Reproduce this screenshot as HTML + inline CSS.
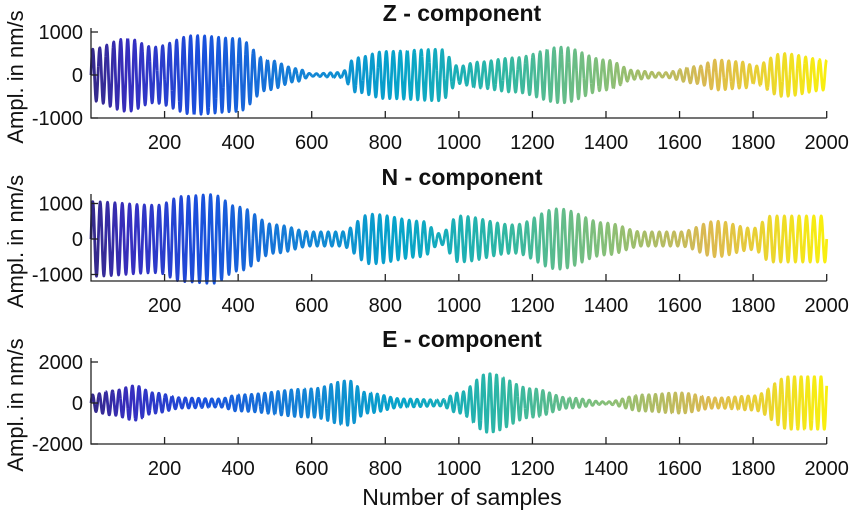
<!DOCTYPE html>
<html><head><meta charset="utf-8"><style>
html,body{margin:0;padding:0;background:#fff}
svg text{font-family:"Liberation Sans",sans-serif;fill:#111}
</style></head><body>
<svg id="s" width="850" height="511" viewBox="0 0 850 511" xmlns="http://www.w3.org/2000/svg"></svg>
<script>
const S=document.getElementById('s');const NS='http://www.w3.org/2000/svg';
function el(t,a,txt){const e=document.createElementNS(NS,t);for(const k in a)e.setAttribute(k,a[k]);if(txt!==undefined)e.textContent=txt;S.appendChild(e);return e;}
const X0=91,X1=826.7;const xs=i=>X0+(X1-X0)*i/2000;
const stops=[[0,[53,42,135]],[0.05,[55,45,190]],[0.15,[25,80,220]],[0.28,[20,129,214]],[0.42,[6,164,202]],[0.56,[46,183,164]],[0.7,[135,191,119]],[0.84,[220,185,80]],[1,[249,240,14]]];
function col(t){for(let k=0;k<stops.length-1;k++){const a=stops[k],b=stops[k+1];if(t<=b[0]){const f=(t-a[0])/(b[0]-a[0]);return 'rgb('+a[1].map((v,j)=>Math.round(v+(b[1][j]-v)*f)).join(',')+')';}}return 'rgb(249,240,14)';}
function env(pts,i){for(let k=0;k<pts.length-1;k++){if(i<=pts[k+1][0]){const f=(i-pts[k][0])/(pts[k+1][0]-pts[k][0]);const s=(1-Math.cos(Math.PI*f))/2;return pts[k][1]+(pts[k+1][1]-pts[k][1])*s;}}return pts[pts.length-1][1];}
const panels=[
{title:'Z - component',ty:21,axis:118,top:28,zero:75,sc:43/1000,ticks:[[1000,'1000'],[0,'0'],[-1000,'-1000']],per:19,
 e:[[0,600],[100,850],[170,650],[280,920],[400,850],[480,350],[560,150],[600,30],[680,60],[720,400],[800,550],[950,600],[1000,200],[1050,300],[1150,400],[1280,650],[1400,350],[1480,100],[1550,50],[1650,200],[1700,350],[1780,300],[1800,200],[1880,500],[2000,350]]},
{title:'N - component',ty:185,axis:281,top:194,zero:239,sc:35.5/1000,ticks:[[1000,'1000'],[0,'0'],[-1000,'-1000']],per:20,
 e:[[0,1050],[180,950],[250,1200],[330,1250],[400,900],[500,400],[600,200],[680,200],[760,700],[900,500],[950,150],[1000,650],[1150,400],[1270,850],[1400,450],[1500,200],[1600,200],[1700,500],[1800,300],[1850,650],[2000,650]]},
{title:'E - component',ty:347,axis:444,top:358,zero:403,sc:20.5/1000,ticks:[[2000,'2000'],[0,'0'],[-2000,'-2000']],per:18,
 e:[[0,400],[60,600],[120,850],[170,500],[250,250],[350,200],[400,400],[600,700],[700,1100],[750,500],[850,200],[950,150],[1000,500],[1080,1450],[1200,700],[1300,250],[1400,60],[1500,400],[1600,500],[1700,250],[1800,350],[1900,1300],[2000,1300]]}
];
panels.forEach(p=>{
  el('text',{x:462,y:p.ty,'text-anchor':'middle','font-size':'23','font-weight':'bold'},p.title);
  const seg=20;
  for(let s=0;s<2000;s+=seg){
    let d='';
    for(let i=s;i<=Math.min(2000,s+seg);i++){
      const v=env(p.e,i)*Math.sin(2*Math.PI*i/p.per);
      d+=(i===s?'M':'L')+xs(i).toFixed(2)+','+(p.zero-v*p.sc).toFixed(2);
    }
    el('path',{d:d,fill:'none',stroke:col((s+seg/2)/2000),'stroke-width':'2.8','stroke-linejoin':'round'});
  }
  el('path',{d:`M${X0},${p.top}V${p.axis}H${X1}`,fill:'none',stroke:'#222','stroke-width':'1.3'});
  p.ticks.forEach(t=>{const y=p.zero-t[0]*p.sc;el('path',{d:`M${X0},${y}h7`,stroke:'#222','stroke-width':'1.3'});
    el('text',{x:83,y:y+7,'text-anchor':'end','font-size':'20'},t[1]);});
  for(let v=200;v<=2000;v+=200){const x=xs(v);el('path',{d:`M${x},${p.axis}v-7`,stroke:'#222','stroke-width':'1.3'});
    el('text',{x:x,y:p.axis+31,'text-anchor':'middle','font-size':'20'},String(v));}
  const cy=(p.top+p.axis)/2+4;
  el('text',{x:0,y:0,transform:`translate(23,${cy}) rotate(-90)`,'text-anchor':'middle','font-size':'22'},'Ampl. in nm/s');
});
el('text',{x:462,y:505,'text-anchor':'middle','font-size':'23'},'Number of samples');
</script>
</body></html>
